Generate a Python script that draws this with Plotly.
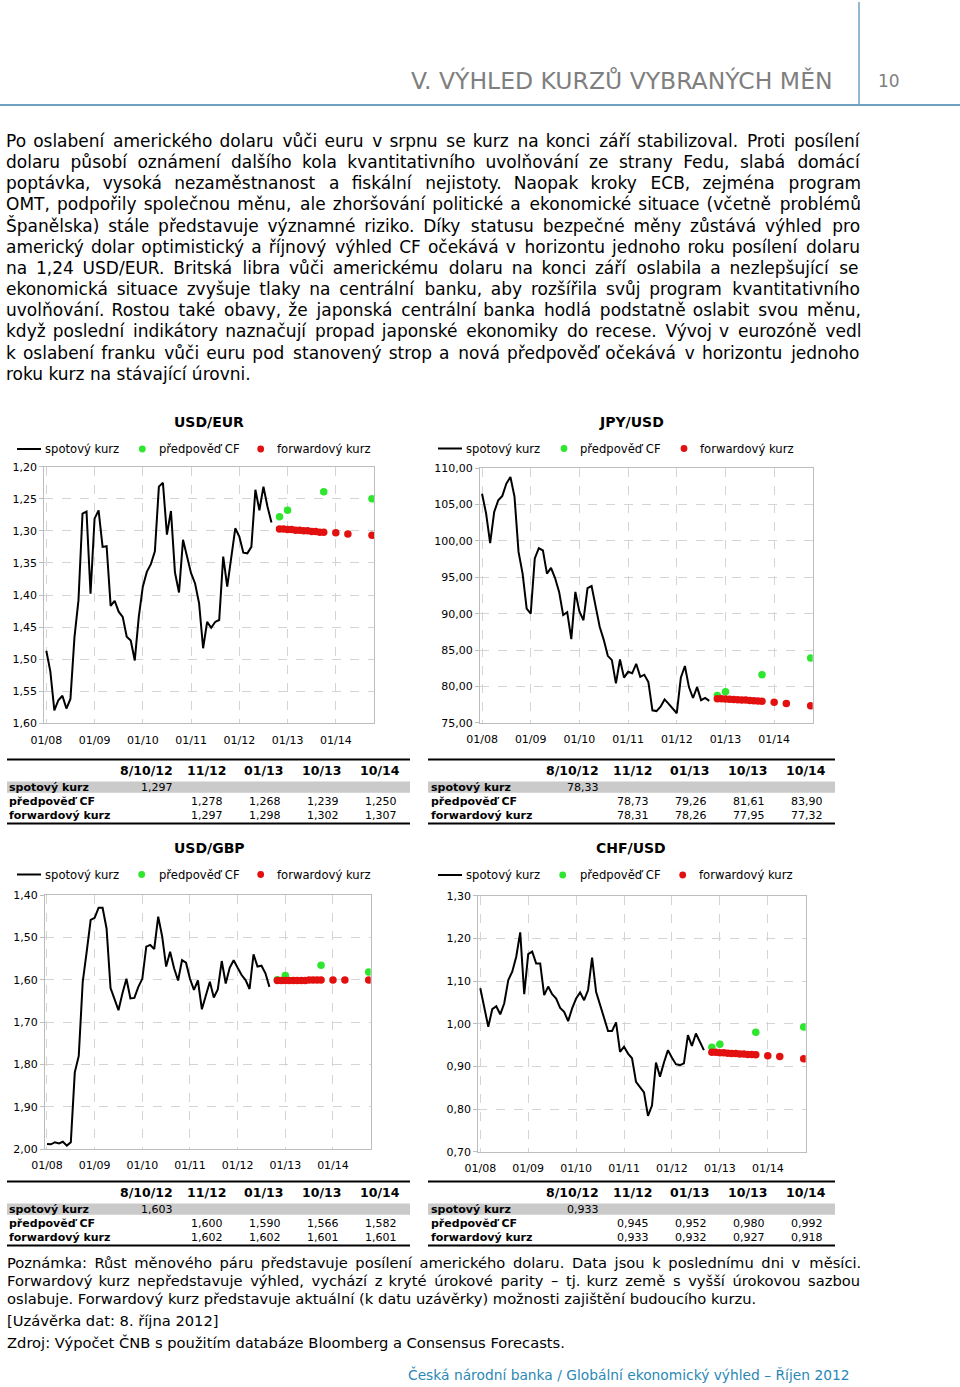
import plotly.graph_objects as go

W, H = 960, 1387
FONT = "DejaVu Sans"

# ---------------- data ----------------
x_tick_labels = ["01/08", "01/09", "01/10", "01/11", "01/12", "01/13", "01/14"]
table_cols = ["8/10/12", "11/12", "01/13", "10/13", "10/14"]
row_labels = ["spotový kurz", "předpověď CF", "forwardový kurz"]
legend_labels = ["spotový kurz", "předpověď CF", "forwardový kurz"]

# month index: 0 = 01/2008
fc_months = [58, 60, 69, 81]
fwd_months = [58, 59, 60, 61, 62, 63, 64, 65, 66, 67, 68, 69, 72, 75, 81]

usdeur_spot = [1.487, 1.519, 1.580, 1.564, 1.557, 1.577, 1.562, 1.466, 1.408, 1.273,
               1.270, 1.398, 1.281, 1.268, 1.325, 1.324, 1.417, 1.409, 1.426, 1.434,
               1.465, 1.471, 1.502, 1.434, 1.387, 1.364, 1.352, 1.332, 1.231, 1.225,
               1.306, 1.269, 1.365, 1.396, 1.314, 1.340, 1.366, 1.382, 1.413, 1.483,
               1.442, 1.451, 1.442, 1.439, 1.340, 1.387, 1.340, 1.296, 1.309, 1.334,
               1.335, 1.325, 1.236, 1.268, 1.231, 1.262, 1.287]
usdeur_now = 1.297
usdeur_fc = [1.278, 1.268, 1.239, 1.250]
usdeur_fwd_tab = [1.297, 1.298, 1.302, 1.307]
usdeur_fwd = [1.297, 1.297, 1.298, 1.298, 1.299, 1.299, 1.300, 1.300, 1.301, 1.301,
              1.302, 1.302, 1.303, 1.305, 1.307]

jpyusd_spot = [106.5, 103.8, 99.7, 104.0, 105.6, 106.2, 107.9, 108.8, 106.1, 98.5,
               95.5, 90.7, 90.0, 97.6, 99.0, 98.7, 95.5, 96.3, 94.9, 93.0,
               89.8, 90.2, 86.5, 93.0, 90.3, 89.1, 93.5, 93.8, 91.0, 88.2,
               86.4, 84.2, 83.6, 80.4, 83.7, 81.2, 82.0, 81.8, 83.1, 81.3,
               81.6, 80.6, 76.7, 76.6, 77.2, 78.2, 77.6, 77.0, 76.3, 81.2,
               82.8, 79.9, 78.4, 79.9, 78.1, 78.4, 78.0]
jpyusd_now = 78.33
jpyusd_fc = [78.73, 79.26, 81.61, 83.90]
jpyusd_fwd_tab = [78.31, 78.26, 77.95, 77.32]
jpyusd_fwd = [78.31, 78.28, 78.26, 78.23, 78.20, 78.17, 78.14, 78.11, 78.07, 78.03,
              77.99, 77.95, 77.80, 77.65, 77.32]

usdgbp_spot = [1.988, 1.989, 1.984, 1.987, 1.983, 1.992, 1.984, 1.819, 1.780, 1.605,
               1.534, 1.459, 1.454, 1.430, 1.430, 1.479, 1.620, 1.646, 1.672, 1.632,
               1.598, 1.644, 1.643, 1.617, 1.598, 1.522, 1.518, 1.528, 1.451, 1.498,
               1.569, 1.534, 1.573, 1.602, 1.554, 1.560, 1.598, 1.624, 1.602, 1.670,
               1.640, 1.605, 1.642, 1.623, 1.556, 1.609, 1.572, 1.554, 1.572, 1.589,
               1.601, 1.622, 1.540, 1.569, 1.567, 1.585, 1.617]
usdgbp_now = 1.603
usdgbp_fc = [1.600, 1.590, 1.566, 1.582]
usdgbp_fwd_tab = [1.602, 1.602, 1.601, 1.601]
usdgbp_fwd = [1.602, 1.602, 1.602, 1.602, 1.602, 1.602, 1.602, 1.602, 1.601, 1.601,
              1.601, 1.601, 1.601, 1.601, 1.601]

chfusd_spot = [1.083, 1.040, 0.993, 1.034, 1.041, 1.022, 1.048, 1.102, 1.122, 1.157,
               1.214, 1.069, 1.163, 1.169, 1.141, 1.141, 1.067, 1.087, 1.069, 1.059,
               1.037, 1.028, 1.006, 1.036, 1.059, 1.073, 1.055, 1.079, 1.155, 1.075,
               1.044, 1.014, 0.983, 0.983, 1.003, 0.934, 0.946, 0.930, 0.919, 0.864,
               0.852, 0.839, 0.784, 0.808, 0.909, 0.876, 0.909, 0.938, 0.920, 0.905,
               0.903, 0.907, 0.973, 0.948, 0.977, 0.958, 0.938]
chfusd_now = 0.933
chfusd_fc = [0.945, 0.952, 0.980, 0.992]
chfusd_fwd_tab = [0.933, 0.932, 0.927, 0.918]
chfusd_fwd = [0.933, 0.933, 0.932, 0.932, 0.931, 0.930, 0.930, 0.929, 0.929, 0.928,
              0.928, 0.927, 0.925, 0.923, 0.918]

paragraph = [
    "Po oslabení amerického dolaru vůči euru v srpnu se kurz na konci září stabilizoval. Proti posílení",
    "dolaru působí oznámení dalšího kola kvantitativního uvolňování ze strany Fedu, slabá domácí",
    "poptávka, vysoká nezaměstnanost a fiskální nejistoty. Naopak kroky ECB, zejména program",
    "OMT, podpořily společnou měnu, ale zhoršování politické a ekonomické situace (včetně problémů",
    "Španělska) stále představuje významné riziko. Díky statusu bezpečné měny zůstává výhled pro",
    "americký dolar optimistický a říjnový výhled CF očekává v horizontu jednoho roku posílení dolaru",
    "na 1,24 USD/EUR. Britská libra vůči americkému dolaru na konci září oslabila a nezlepšující se",
    "ekonomická situace zvyšuje tlaky na centrální banku, aby rozšířila svůj program kvantitativního",
    "uvolňování. Rostou také obavy, že japonská centrální banka hodlá podstatně oslabit svou měnu,",
    "když poslední indikátory naznačují propad japonské ekonomiky do recese. Vývoj v eurozóně vedl",
    "k oslabení franku vůči euru pod stanovený strop a nová předpověď očekává v horizontu jednoho",
    "roku kurz na stávající úrovni.",
]
footnote = [
    "Poznámka: Růst měnového páru představuje posílení amerického dolaru. Data jsou k poslednímu dni v měsíci.",
    "Forwardový kurz nepředstavuje výhled, vychází z kryté úrokové parity – tj. kurz země s vyšší úrokovou sazbou",
    "oslabuje. Forwardový kurz představuje aktuální (k datu uzávěrky) možnosti zajištění budoucího kurzu.",
]
closing = "[Uzávěrka dat: 8. října 2012]"
source = "Zdroj: Výpočet ČNB s použitím databáze Bloomberg a Consensus Forecasts."
header_title = "V. VÝHLED KURZŮ VYBRANÝCH MĚN"
page_no = "10"
footer = "Česká národní banka / Globální ekonomický výhled – Říjen 2012"

# ---------------- styling ----------------
GREEN = "#2ee62e"
RED = "#e31010"
# approximate natural rendered widths (px) of the text lines, used to emulate justification
para_natural = [815, 796, 780, 831, 813, 827, 799, 813, 820, 822, 821, None]
foot_natural = [811, 811, None]
JUSTIFY_WIDTH = 854


def justify(line, natural, size):
    if natural is None:
        return line
    words = line.split(" ")
    gaps = len(words) - 1
    hair = 0.1 * size
    total = max(0, int(round((JUSTIFY_WIDTH - natural) / hair)))
    out = words[0]
    for g, w in enumerate(words[1:]):
        k = total * (g + 1) // gaps - total * g // gaps
        out += " " + "\u200a" * k + w
    return out


def px(x):
    return x / W


def py(y):
    return 1 - y / H


charts = [
    dict(title="USD/EUR", spot=usdeur_spot, now=usdeur_now, fc=usdeur_fc, fwd=usdeur_fwd,
         fwdtab=usdeur_fwd_tab, rng=[1.60, 1.20], dtick=0.05, dec=3,
         box=(44.3, 374.0, 466.7, 723.3), title_xy=(209, 422.5), leg_y=449,
         leg_x=(17, 41, 43, 142.3, 156.5, 260.7, 275),
         tab=(7, 410, 0, 0, 0)),
    dict(title="JPY/USD", spot=jpyusd_spot, now=jpyusd_now, fc=jpyusd_fc, fwd=jpyusd_fwd,
         fwdtab=jpyusd_fwd_tab, rng=[75, 110], dtick=5, dec=2,
         box=(480.0, 812.7, 468.3, 722.7), title_xy=(631, 422.5), leg_y=448.5,
         leg_x=(438, 462, 464, 564, 578, 684, 698),
         tab=(428, 835, 426, 422, 0)),
    dict(title="USD/GBP", spot=usdgbp_spot, now=usdgbp_now, fc=usdgbp_fc, fwd=usdgbp_fwd,
         fwdtab=usdgbp_fwd_tab, rng=[2.00, 1.40], dtick=0.1, dec=3,
         box=(45.0, 370.7, 895.0, 1149.0), title_xy=(209, 848.3), leg_y=874.5,
         leg_x=(17, 41, 43, 141.7, 156.5, 260.7, 275),
         tab=(7, 410, 0, 0, 422)),
    dict(title="CHF/USD", spot=chfusd_spot, now=chfusd_now, fc=chfusd_fc, fwd=chfusd_fwd,
         fwdtab=chfusd_fwd_tab, rng=[0.70, 1.30], dtick=0.1, dec=3,
         box=(478.3, 805.7, 895.7, 1151.7), title_xy=(631, 848.3), leg_y=875,
         leg_x=(438, 462, 464, 562.7, 577.5, 682.7, 697),
         tab=(428, 835, 426, 422, 422)),
]

fig = go.Figure()
shapes = []
annotations = []


def text(x, y, s, size, color="black", anchor="left", bold=False, yanchor="middle"):
    annotations.append(dict(
        x=px(x), y=py(y), xref="paper", yref="paper", text=("<b>%s</b>" % s) if bold else s,
        showarrow=False, xanchor=anchor, yanchor=yanchor,
        font=dict(family=FONT, size=size, color=color)))


def fmt(v, dec):
    return ("{:.%df}" % dec).format(v).replace(".", ",")


layout_axes = {}
for i, c in enumerate(charts):
    n = "" if i == 0 else str(i + 1)
    x0, x1, y0, y1 = c["box"]
    xa, ya = "x" + n, "y" + n
    fig.add_trace(go.Scatter(x=list(range(len(c["spot"]))), y=c["spot"], mode="lines",
                             line=dict(color="black", width=2), xaxis=xa, yaxis=ya,
                             showlegend=False, hoverinfo="skip"))
    fig.add_trace(go.Scatter(x=fc_months, y=c["fc"], mode="markers",
                             marker=dict(color=GREEN, size=7.5), xaxis=xa, yaxis=ya,
                             showlegend=False, hoverinfo="skip"))
    fig.add_trace(go.Scatter(x=fwd_months, y=c["fwd"], mode="markers",
                             marker=dict(color=RED, size=7.5), xaxis=xa, yaxis=ya,
                             showlegend=False, hoverinfo="skip"))
    layout_axes["xaxis" + n] = dict(
        domain=[px(x0), px(x1)], anchor=ya, range=[-0.5, 81.5], automargin=False,
        tickmode="array", tickvals=[0, 12, 24, 36, 48, 60, 72], ticktext=x_tick_labels,
        showgrid=True, gridcolor="#d4d4d4", griddash="dash", gridwidth=1,
        showline=True, mirror=True, linecolor="#bdbdbd", linewidth=1,
        ticks="outside", ticklen=6, tickcolor="rgba(0,0,0,0)",
        tickfont=dict(family=FONT, size=11, color="black"), zeroline=False, fixedrange=True)
    layout_axes["yaxis" + n] = dict(
        domain=[py(y1), py(y0)], anchor=xa, range=c["rng"], dtick=c["dtick"], automargin=False,
        tick0=0, tickformat=".2f",
        showgrid=True, gridcolor="#d4d4d4", griddash="dash", gridwidth=1,
        showline=True, mirror=True, linecolor="#bdbdbd", linewidth=1,
        ticks="outside", ticklen=4, tickcolor="#bdbdbd",
        tickfont=dict(family=FONT, size=11, color="black"), zeroline=False, fixedrange=True)

    # title
    tx, ty = c["title_xy"]
    text(tx, ty, c["title"], 14, anchor="center", bold=True)
    # legend
    lx0, lx1, t1, gdot, t2, rdot, t3 = c["leg_x"]
    ly = c["leg_y"]
    shapes.append(dict(type="line", xref="paper", yref="paper", x0=px(lx0), x1=px(lx1),
                       y0=py(ly), y1=py(ly), line=dict(color="black", width=2)))
    for cx, col in ((gdot, GREEN), (rdot, RED)):
        shapes.append(dict(type="circle", xref="paper", yref="paper",
                           x0=px(cx - 3.4), x1=px(cx + 3.4), y0=py(ly + 3.4), y1=py(ly - 3.4),
                           fillcolor=col, line=dict(width=0)))
    text(t1, ly, legend_labels[0], 11.6)
    text(t2, ly, legend_labels[1], 11.6)
    text(t3, ly, legend_labels[2], 11.6)

    # table
    tl, tr, dx, lab_dx, dy = c["tab"]
    shapes.append(dict(type="rect", xref="paper", yref="paper", x0=px(tl), x1=px(tr),
                       y0=py(792.7 + dy), y1=py(781.5 + dy), fillcolor="#cacaca",
                       line=dict(width=0), layer="below"))
    for yy in (759.5, 823.5):
        shapes.append(dict(type="line", xref="paper", yref="paper", x0=px(tl), x1=px(tr),
                           y0=py(yy + dy), y1=py(yy + dy), line=dict(color="black", width=2)))
    hdr_right = [175, 228, 285, 343, 402]
    val_right = [175, 225, 283, 341, 399]
    for j, lab in enumerate(table_cols):
        text(hdr_right[j] + dx, 770 + dy, lab, 12.5, anchor="right", bold=True)
    for j, lab in enumerate(row_labels):
        text(7 + lab_dx, [787, 801.5, 815.5][j] + dy, lab, 11, bold=True)
    text(val_right[0] + dx, 787 + dy, fmt(c["now"], c["dec"]), 11, anchor="right")
    for j in range(4):
        text(val_right[j + 1] + dx, 801.5 + dy, fmt(c["fc"][j], c["dec"]), 11, anchor="right")
        text(val_right[j + 1] + dx, 815.5 + dy, fmt(c["fwdtab"][j], c["dec"]), 11, anchor="right")

# header
text(835, 80, header_title, 23.5, color="#7f7f7f", anchor="right")
text(889, 81, page_no, 17, color="#7f7f7f", anchor="center")
shapes.append(dict(type="line", xref="paper", yref="paper", x0=0, x1=1,
                   y0=py(105), y1=py(105), line=dict(color="#6fa0c4", width=2)))
shapes.append(dict(type="line", xref="paper", yref="paper", x0=px(859), x1=px(859),
                   y0=py(2), y1=py(105), line=dict(color="#6fa0c4", width=1.5)))

# paragraph
for k, line in enumerate(paragraph):
    text(4, 141 + k * 21.15, justify(line, para_natural[k], 17), 17)

# footnotes
for k, line in enumerate(footnote):
    text(5, 1262 + k * 18.2, justify(line, foot_natural[k], 14.7), 14.7)
text(5, 1320, closing, 14.7)
text(5, 1342, source, 14.7)
text(852, 1374, footer, 13.8, color="#2b88b5", anchor="right")

fig.update_layout(
    width=W, height=H, margin=dict(l=0, r=0, t=0, b=0, autoexpand=False),
    paper_bgcolor="white", plot_bgcolor="white",
    separators=", ", showlegend=False, shapes=shapes, annotations=annotations,
    font=dict(family=FONT), **layout_axes)

fig.write_html("out.html", config={"displayModeBar": False})
